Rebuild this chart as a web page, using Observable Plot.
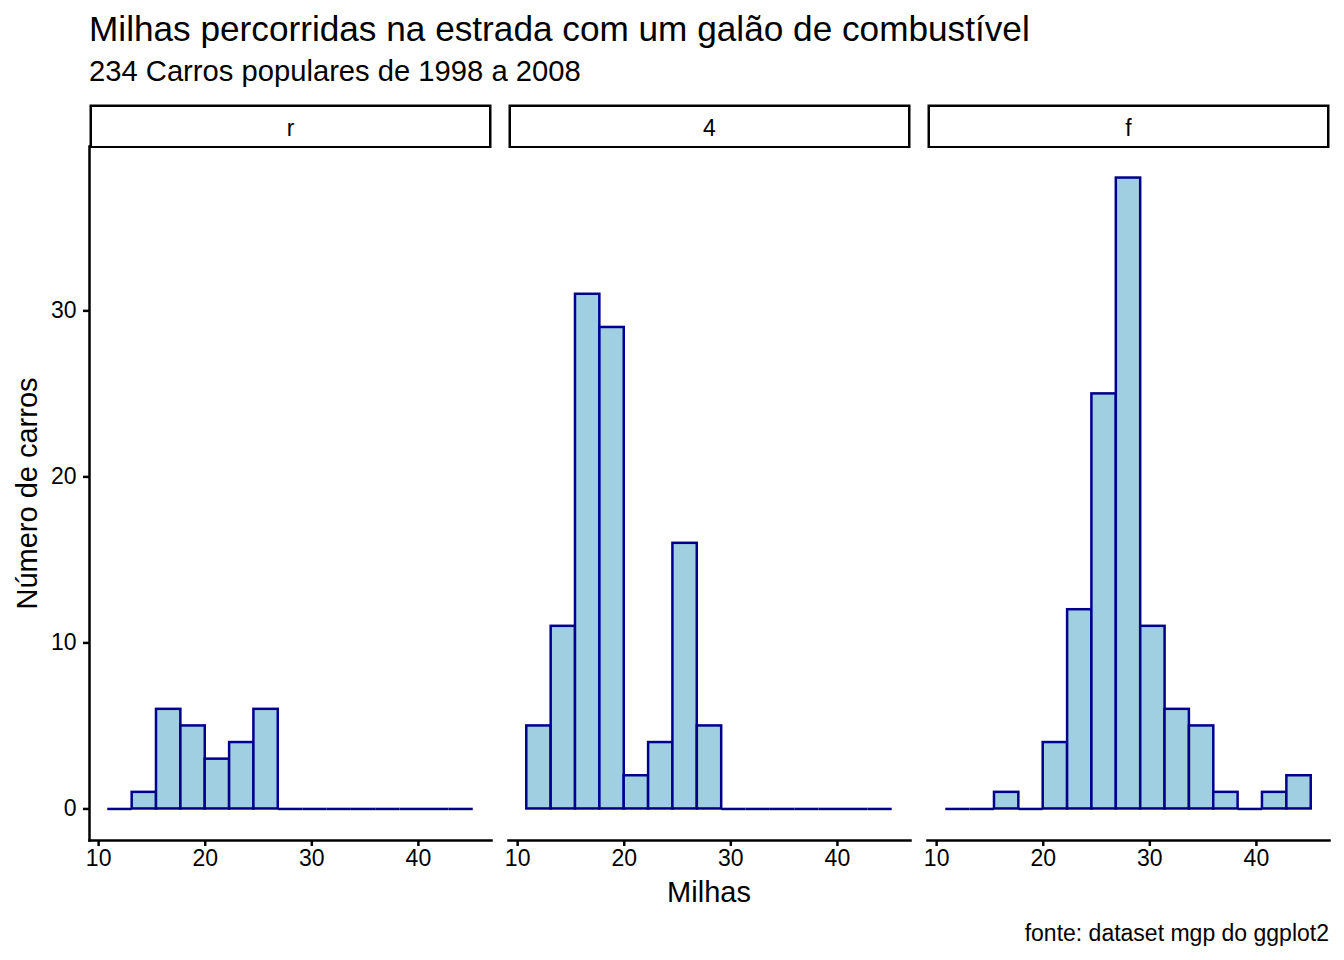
<!DOCTYPE html>
<html>
<head>
<meta charset="utf-8">
<script src="https://cdn.jsdelivr.net/npm/d3@7"></script>
<script src="https://cdn.jsdelivr.net/npm/@observablehq/plot@0.6"></script>
<style>
  html, body { margin: 0; padding: 0; background: white; }
  #root { position: relative; width: 1344px; height: 960px; font-family: "Liberation Sans", Arial, Helvetica, sans-serif; color: black; background: white; }
  .abs { position: absolute; white-space: nowrap; line-height: 1; }
  #title { left: 89px; top: 11px; font-size: 35.2px; }
  #subtitle { left: 89px; top: 57px; font-size: 29.2px; }
  #strip { left: 0; top: 104px; z-index: 2; }
  #main { left: 0; top: 146px; z-index: 1; }
  #xlabel { left: 0; width: 1344px; text-align: center; padding-left: 74px; box-sizing: border-box; top: 878px; font-size: 29px; }
  #caption { right: 15px; top: 922px; font-size: 23px; }
</style>
</head>
<body>
<div id="root">
  <div id="title" class="abs">Milhas percorridas na estrada com um galão de combustível</div>
  <div id="subtitle" class="abs">234 Carros populares de 1998 a 2008</div>
  <div id="main" class="abs"></div>
  <div id="strip" class="abs"></div>
  <div id="xlabel" class="abs">Milhas</div>
  <div id="caption" class="abs">fonte: dataset mgp do ggplot2</div>
</div>
<script>
// ---- data ----
const drvLevels = ["r", "4", "f"];
const binCenters = [12, 14.29, 16.57, 18.86, 21.14, 23.43, 25.71, 28, 30.29, 32.57, 34.86, 37.14, 39.43, 41.71, 44];
const binWidth = 2.2857;
const countsR = [0, 1, 6, 5, 3, 4, 6, 0, 0, 0, 0, 0, 0, 0, 0];
const counts4 = [5, 11, 31, 29, 2, 4, 16, 5, 0, 0, 0, 0, 0, 0, 0];
const countsF = [0, 0, 1, 0, 4, 12, 25, 38, 11, 6, 5, 1, 0, 1, 2];
const xTicks = [10, 20, 30, 40];
const yTicks = [0, 10, 20, 30];
const yLabel = "Número de carros";

const countsByDrv = { "r": countsR, "4": counts4, "f": countsF };
const bins = [];
for (const drv of drvLevels) {
  countsByDrv[drv].forEach((count, i) => {
    bins.push({ drv, x1: binCenters[i] - binWidth / 2, x2: binCenters[i] + binWidth / 2, count });
  });
}
const allEdges = bins.flatMap(d => [d.x1, d.x2]);
const xMin = d3.min(allEdges), xMax = d3.max(allEdges);
const xPad = (xMax - xMin) * 0.05;
const yMax = d3.max(bins, d => d.count);
const yPad = yMax * 0.05;

const font = "'Liberation Sans', Arial, Helvetica, sans-serif";
const fill = "#a0cfe1";
const stroke = "#00008b";
const lw = 2.5;
const fxOpts = { domain: drvLevels, paddingInner: 0.0406, paddingOuter: 0, axis: null, label: null };

// ---- strips ----
const strip = Plot.plot({
  width: 1344, height: 44,
  marginLeft: 89, marginRight: 15, marginTop: 0, marginBottom: 0,
  style: { fontFamily: font, fontSize: "23px", color: "black", background: "transparent" },
  fx: fxOpts,
  marks: [
    Plot.frame({ stroke: "black", strokeWidth: lw, inset: 1.25, fill: "white" }),
    Plot.text(drvLevels, { fx: d => d, text: d => d, frameAnchor: "middle", dy: 2, fontSize: 23, fill: "black" })
  ]
});
document.getElementById("strip").appendChild(strip);

// ---- main panels ----
const main = Plot.plot({
  width: 1344, height: 694 + 60,
  marginLeft: 89, marginRight: 15, marginTop: 0, marginBottom: 60,
  style: { fontFamily: font, fontSize: "23px", color: "black", background: "transparent", overflow: "visible" },
  fx: fxOpts,
  x: { domain: [xMin - xPad, xMax + xPad] },
  y: { domain: [-yPad, yMax + yPad] },
  marks: [
    Plot.rectY(bins.filter(d => d.count > 0), { x1: "x1", x2: "x2", y: "count", fx: "drv", fill, stroke, strokeWidth: lw }),
    Plot.ruleY(bins.filter(d => d.count === 0), { x1: "x1", x2: "x2", y: "count", fx: "drv", stroke, strokeWidth: lw }),
    Plot.frame({ anchor: "bottom", stroke: "black", strokeWidth: lw }),
    Plot.frame({ anchor: "left", stroke: "black", strokeWidth: lw, facetAnchor: "left" }),
    Plot.axisX({ ticks: xTicks, tickSize: 6, tickPadding: 3, strokeWidth: lw, label: null, fontSize: 23, fill: "black" }),
    Plot.axisY({ ticks: yTicks, tickSize: 6, tickPadding: 7, strokeWidth: lw, label: null, fontSize: 23, fill: "black" }),
    Plot.text([{ fx: drvLevels[0], t: yLabel }], { fx: "fx", text: "t", frameAnchor: "left", rotate: -90, dx: -62, textAnchor: "middle", lineAnchor: "middle", fontSize: 29, fill: "black" })
  ]
});
document.getElementById("main").appendChild(main);
</script>
</body>
</html>
